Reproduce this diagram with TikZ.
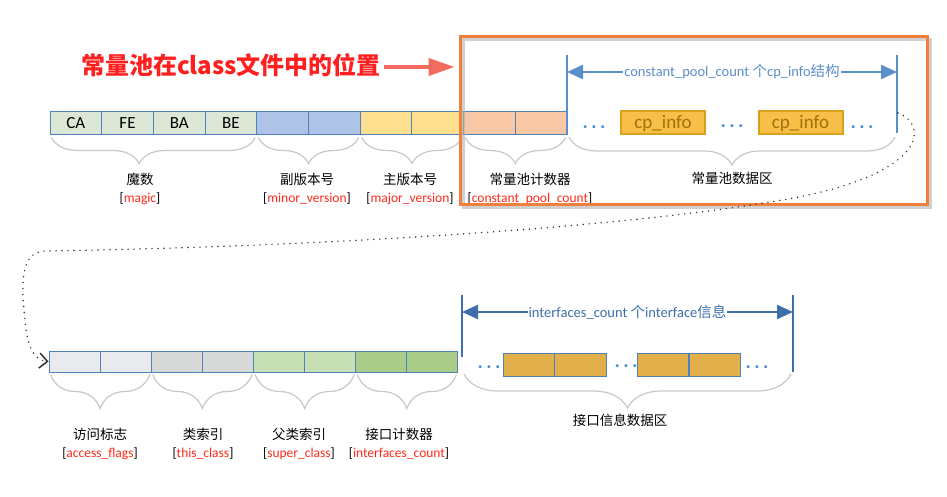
\documentclass[tikz,border=0pt]{standalone}
\usepackage{fontspec}
\setmainfont{Carlito}
\newfontfamily\cjk{Noto Sans CJK SC}
\usetikzlibrary{arrows.meta,decorations.pathreplacing,positioning}

\definecolor{cellblue}{HTML}{4F81BD}
\definecolor{magicfill}{HTML}{DCE8D5}
\definecolor{minorfill}{HTML}{AFC3E7}
\definecolor{majorfill}{HTML}{FDE08F}
\definecolor{cpcfill}{HTML}{F8C7A6}
\definecolor{accfill}{HTML}{E9EAEB}
\definecolor{thisfill}{HTML}{D7D8D8}
\definecolor{superfill}{HTML}{C6DFB3}
\definecolor{icfill}{HTML}{A9CD89}
\definecolor{topspan}{HTML}{5B8FCB}
\definecolor{botspan}{HTML}{3D70A8}
\definecolor{dotblue}{HTML}{4A8FD6}
\definecolor{cpfill}{HTML}{F7BE48}
\definecolor{cpdraw}{HTML}{D9A21C}
\definecolor{cptext}{HTML}{A0720A}
\definecolor{iffill}{HTML}{E1B04A}
\definecolor{bracegray}{HTML}{C8C8C8}
\definecolor{fieldred}{HTML}{FF2A1A}
\definecolor{frameorange}{HTML}{F2803D}
\definecolor{titlered}{HTML}{FF1F1F}
\definecolor{arrowred}{HTML}{F26B5E}

\newcommand{\zh}[1]{{\cjk #1}}
\newcommand{\fld}[1]{{[}\textcolor{fieldred}{#1}{]}}

\tikzset{
  cell/.style={draw=cellblue, line width=1pt, inner sep=0pt, minimum width=51.7pt,
    minimum height=23pt, font=\fontsize{17}{17}\selectfont},
  brc/.style={draw=bracegray, line width=1.2pt, decorate,
    decoration={brace, mirror, amplitude=#1}},
  lbl/.style={align=center, font=\fontsize{13.5}{18}\selectfont},
  bar/.style={line width=2pt},
  span/.style={line width=2.2pt, {Triangle[length=16pt,width=14pt]}-{Triangle[length=16pt,width=14pt]}},
  spantext/.style={fill=white, inner sep=1pt, font=\fontsize{14.5}{14.5}\selectfont},
  dots/.style={text=dotblue, font=\bfseries\fontsize{20}{20}\selectfont},
  cpbox/.style={draw=cpdraw, fill=cpfill, line width=2pt, text=cptext, inner sep=0pt,
    minimum width=84pt, minimum height=23pt, font=\fontsize{19}{19}\selectfont},
  ifbox/.style={draw=cellblue, fill=iffill, line width=1pt, inner sep=0pt,
    minimum width=51.5pt, minimum height=23pt},
  loop/.style={draw=black!80, line width=1.6pt, dash pattern=on 0pt off 6pt, line cap=round},
}

\begin{document}
\begin{tikzpicture}[x=1pt, y=-1pt]
  \fill[white] (0,0) rectangle (947,497);
  \useasboundingbox (0,0) rectangle (947,497);

  % top row of the class file
  \foreach \fc/\tx [count=\i] in {magicfill/CA, magicfill/FE, magicfill/BA, magicfill/BE,
      minorfill/, minorfill/, majorfill/, majorfill/, cpcfill/, cpcfill/}
    \node[cell, fill=\fc] (t\i) at (50+51.7*\i-25.85, 123.5) {\tx};

  \draw[brc=26pt, decoration={aspect=0.43}] ([xshift=2pt,yshift=-2pt]t1.south west) -- ([xshift=-2pt,yshift=-2pt]t4.south east);
  \draw[brc=26pt] ([xshift=2pt,yshift=-2pt]t5.south west) -- ([xshift=-2pt,yshift=-2pt]t6.south east);
  \draw[brc=26pt] ([xshift=2pt,yshift=-2pt]t7.south west) -- ([xshift=-2pt,yshift=-2pt]t8.south east);
  \draw[brc=26pt] ([xshift=2pt,yshift=-2pt]t9.south west) -- ([xshift=-2pt,yshift=-2pt]t10.south east);

  \node[lbl] (magic) at (140,189) {\zh{魔数}\\\fld{magic}};
  \node[lbl] (minor) at (307,189) {\zh{副版本号}\\\fld{minor\_version}};
  \node[lbl] (major) at (410,189) {\zh{主版本号}\\\fld{major\_version}};
  \node[lbl] (cpcount) at (530,189) {\zh{常量池计数器}\\\fld{constant\_pool\_count}};

  % constant pool data
  \coordinate (cpl) at (567,55);
  \coordinate (cpr) at (897,55);
  \draw[bar, topspan] (cpl) -- (567,135);
  \draw[bar, topspan] (cpr) -- (897,133);
  \draw[span, topspan] (567,72) -- (897,72)
    node[midway, spantext] (cphead) {constant\_pool\_count \zh{个}cp\_info\zh{结构}};

  \node[dots] (cd1) at (594,127) {.\,.\,.};
  \node[cpbox] (cpi1) at (663,123) {cp\_info};
  \node[dots] (cd2) at (732,126) {.\,.\,.};
  \node[cpbox] (cpi2) at (800.5,123) {cp\_info};
  \node[dots] (cd3) at (862,127) {.\,.\,.};

  \draw[brc=28pt] (569,137) -- (895,137);
  \node[lbl] (pooldata) at (732,178) {\zh{常量池数据区}};

  % frame round the constant pool
  \draw[black!30, line width=3pt, opacity=0.6] (463,40) rectangle (930,207);
  \node[draw=frameorange, line width=3pt, inner sep=0pt, minimum width=467pt,
    minimum height=167pt] (pool) at (693.5,120.5) {};

  \node[text=titlered, font=\cjk\bfseries\fontsize{24}{24}\selectfont] (title) at (231,65) {常量池在class文件中的位置};
  \draw[arrowred, line width=4pt, -{Triangle[length=26pt,width=17pt]}, shorten >=4pt]
    ([yshift=-2pt]title.east) -- ([yshift=-2pt]title.east -| pool.west);

  % bottom row of the class file
  \foreach \fc [count=\i] in {accfill, accfill, thisfill, thisfill, superfill, superfill, icfill, icfill}
    \node[cell, fill=\fc, minimum width=51.1pt, minimum height=21pt] (b\i) at (49+51.125*\i-25.56, 361.5) {};

  \draw[brc=34pt] ([xshift=2pt,yshift=-2pt]b1.south west) -- ([xshift=-2pt,yshift=-2pt]b2.south east);
  \draw[brc=34pt] ([xshift=2pt,yshift=-2pt]b3.south west) -- ([xshift=-2pt,yshift=-2pt]b4.south east);
  \draw[brc=34pt] ([xshift=2pt,yshift=-2pt]b5.south west) -- ([xshift=-2pt,yshift=-2pt]b6.south east);
  \draw[brc=34pt] ([xshift=2pt,yshift=-2pt]b7.south west) -- ([xshift=-2pt,yshift=-2pt]b8.south east);

  \node[lbl] (access) at (100,443.5) {\zh{访问标志}\\\fld{access\_flags}};
  \node[lbl] (this) at (203,443.5) {\zh{类索引}\\\fld{this\_class}};
  \node[lbl] (super) at (299,443.5) {\zh{父类索引}\\\fld{super\_class}};
  \node[lbl] (ifcount) at (399,443.5) {\zh{接口计数器}\\\fld{interfaces\_count}};

  % interfaces data
  \coordinate (ifl) at (462,295);
  \coordinate (ifr) at (793,295);
  \draw[bar, botspan] (ifl) -- (462,357);
  \draw[bar, botspan] (ifr) -- (793,372);
  \draw[span, botspan] (462,312) -- (793,312)
    node[midway, spantext] (ifhead) {interfaces\_count \zh{个}interface\zh{信息}};

  \node[dots] (id1) at (489,367) {.\,.\,.};
  \node[ifbox] (if1) at (529.5,364.5) {};
  \node[ifbox] (if2) at (580.5,364.5) {};
  \node[dots] (id2) at (626,366) {.\,.\,.};
  \node[ifbox] (if3) at (663,364.5) {};
  \node[ifbox] (if4) at (715,364.5) {};
  \node[dots] (id3) at (757,367) {.\,.\,.};

  \draw[brc=34pt] (464,374) -- (791,374);
  \node[lbl] (ifdata) at (620,420) {\zh{接口信息数据区}};

  % the file goes on in the second row
  \coordinate (wrap) at (898,113);
  \draw[loop, -{Straight Barb[length=8pt,width=15pt,line width=1.5pt]}] (wrap)
    .. controls (930,125) and (928,178) .. (770,202)
    .. controls (600,230) and (300,247) .. (45,251)
    .. controls (18,252) and (22,290) .. (25,320)
    .. controls (27,345) and (33,360) .. (b1.west);
\end{tikzpicture}
\end{document}
